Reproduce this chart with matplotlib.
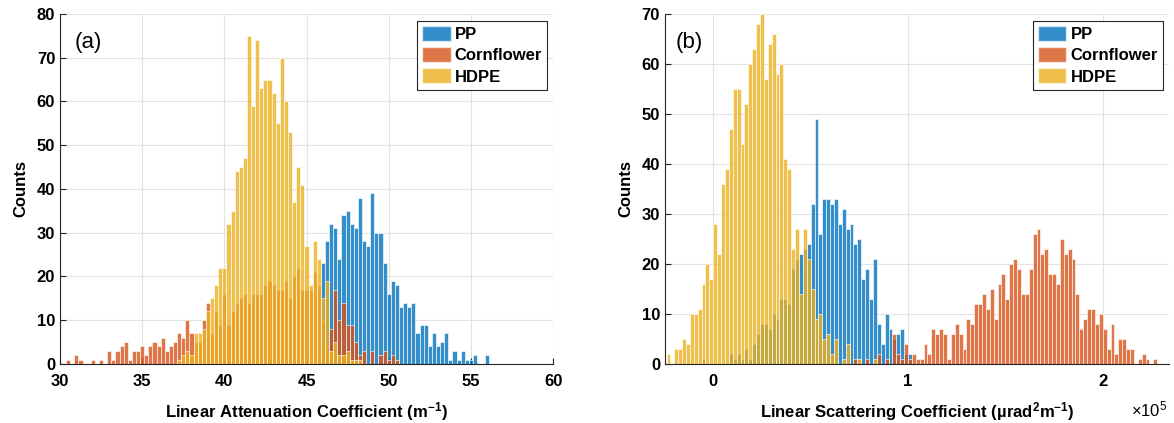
import numpy as np
import matplotlib
matplotlib.use("Agg")
import matplotlib.pyplot as plt
from matplotlib.colors import to_rgba
from matplotlib.patches import Patch

plt.rcParams['font.family'] = ['Liberation Sans', 'DejaVu Sans']
plt.rcParams['mathtext.default'] = 'regular'

series = ["PP", "Cornflower", "HDPE"]
colors = ["#0072BD", "#D95319", "#EDB120"]

# (a) linear attenuation coefficient, bins of 0.25 m^-1 (first bin centre per series)
att_width = 0.25
pp_att_start = 46.0
pp_att = [23, 28, 32, 31, 24, 34, 35, 32, 31, 38, 28, 27, 39, 30, 30, 23, 16, 19, 18, 13,
          14, 13, 14, 7, 9, 9, 4, 7, 4, 5, 7, 1, 3, 1, 3, 1, 1, 2, 0, 0, 2]
corn_att_start = 30.5
corn_att = [1, 0, 2, 1, 0, 0, 1, 0, 1, 0,
            3, 1, 3, 4, 5, 1, 3, 3, 4, 2,
            4, 5, 4, 6, 3, 4, 5, 7, 6, 10,
            7, 5, 5, 10, 14, 7, 12, 9, 16, 9,
            12, 14, 15, 16, 14, 16, 16, 16, 18, 19,
            18, 17, 17, 19, 15, 20, 22, 17, 17, 17,
            21, 18, 10, 4, 8, 17, 10, 14, 9, 9,
            5, 2, 3, 0, 3, 0, 2, 3, 1, 2, 1]
hdpe_att_start = 37.25
hdpe_att = [1, 2, 3,
            2, 7, 7, 8, 12, 15, 18, 22, 22, 32,
            35, 44, 45, 47, 75, 59, 74, 63, 65, 65,
            62, 55, 70, 60, 53, 37, 45, 41, 27, 18,
            28, 24, 15, 19, 3, 5, 2, 2, 3, 1, 1, 1]

# (b) linear scattering coefficient (x1e5), bins of 0.02
sca_width = 0.02
pp_sca_start = -0.05
pp_sca = [1, 0, 0, 0, 0, 0, 0, 2, 1, 2, 1,
          3, 1, 4, 6, 8, 8, 7, 10, 9, 13,
          13, 12, 19, 21, 22, 23, 24, 32, 49, 26,
          33, 33, 32, 33, 28, 31, 27, 28, 24, 25,
          17, 19, 13, 21, 8, 4, 10, 7, 5, 6,
          7, 2, 2]
corn_sca_start = 0.73
corn_sca = [1, 1, 0, 1, 0, 0, 2, 0, 1, 0, 6, 2, 1, 4, 1, 2, 1, 1, 4, 2,
            7, 6, 7, 6, 1, 6, 8, 6, 3, 9,
            8, 12, 12, 14, 11, 15, 9, 16, 18, 13,
            20, 21, 19, 14, 14, 19, 26, 27, 22, 23,
            18, 18, 16, 25, 22, 23, 21, 14, 7, 9,
            11, 11, 8, 10, 7, 3, 8, 2, 5, 5,
            3, 3, 0, 1, 2, 1, 0, 1]
hdpe_sca_start = -0.23
hdpe_sca = [2, 0, 3, 3, 5, 4, 10, 10, 11, 16,
            20, 17, 28, 22, 36, 39, 47, 55, 55, 44,
            52, 60, 63, 68, 70, 57, 64, 66, 58, 60,
            41, 39, 23, 27, 14, 27, 21, 15, 9, 10,
            5, 6, 2, 5, 0, 1, 4, 0, 0, 1,
            0, 0, 0, 1]

FACE_ALPHA = 0.8


def draw_hist(ax, start, width, counts, color):
    centers = start + width * np.arange(len(counts))
    ax.bar(centers, counts, width=width, color=to_rgba(color, FACE_ALPHA),
           edgecolor=(1, 1, 1, 0.7), linewidth=0.6)


def style(ax, xticks, yticks, xlim, ylim):
    ax.set_xlim(*xlim)
    ax.set_ylim(*ylim)
    ax.set_xticks(xticks)
    ax.set_yticks(yticks)
    ax.set_axisbelow(True)
    ax.grid(True, color='#e2e2e2', linewidth=0.8)
    for s in ['top', 'right']:
        ax.spines[s].set_visible(False)
    for s in ['left', 'bottom']:
        ax.spines[s].set_color('#262626')
        ax.spines[s].set_linewidth(0.8)
    ax.tick_params(direction='in', length=4, width=0.8, labelsize=12, color='#262626')
    ax.tick_params(axis='x', pad=7)
    for lbl in ax.get_xticklabels() + ax.get_yticklabels():
        lbl.set_fontweight('bold')
    handles = [Patch(facecolor=to_rgba(c, FACE_ALPHA), edgecolor=(1, 1, 1, 0.6)) for c in colors]
    leg = ax.legend(handles, series, loc='upper right', bbox_to_anchor=(0.988, 0.98),
                    fancybox=False, framealpha=1, edgecolor='#262626',
                    prop={'weight': 'bold', 'size': 12}, handlelength=1.7,
                    handleheight=1.0, handletextpad=0.25, labelspacing=0.3,
                    borderpad=0.3, borderaxespad=0)
    leg.get_frame().set_linewidth(0.8)


fig = plt.figure(figsize=(11.74, 4.23), dpi=100)
ax1 = fig.add_axes([0.0511, 0.1395, 0.420, 0.8274])
ax2 = fig.add_axes([0.5664, 0.1395, 0.4293, 0.8274])

# PP first, then Cornflower, HDPE on top
draw_hist(ax1, pp_att_start, att_width, pp_att, colors[0])
draw_hist(ax1, corn_att_start, att_width, corn_att, colors[1])
draw_hist(ax1, hdpe_att_start, att_width, hdpe_att, colors[2])
style(ax1, np.arange(30, 61, 5), np.arange(0, 81, 10), (30, 60), (0, 80))
ax1.set_xlabel("Linear Attenuation Coefficient (m$^{-1}$)", fontsize=12,
               fontweight='bold', labelpad=8)
ax1.set_ylabel("Counts", fontsize=12, fontweight='bold', labelpad=6)
ax1.text(0.03, 0.92, "(a)", transform=ax1.transAxes, fontsize=16, va='center')

draw_hist(ax2, pp_sca_start, sca_width, pp_sca, colors[0])
draw_hist(ax2, corn_sca_start, sca_width, corn_sca, colors[1])
draw_hist(ax2, hdpe_sca_start, sca_width, hdpe_sca, colors[2])
style(ax2, [0, 1, 2], np.arange(0, 71, 10), (-0.248, 2.34), (0, 70))
ax2.set_xlabel("Linear Scattering Coefficient (\u00b5rad$^{2}$m$^{-1}$)", fontsize=12,
               fontweight='bold', labelpad=8)
ax2.set_ylabel("Counts", fontsize=12, fontweight='bold', labelpad=6)
ax2.text(0.022, 0.92, "(b)", transform=ax2.transAxes, fontsize=16, va='center')
fig.text(0.963, 0.031, r"$\times10^{5}$", fontsize=12, va='center', ha='left')

fig.savefig("out.png", dpi=100)
